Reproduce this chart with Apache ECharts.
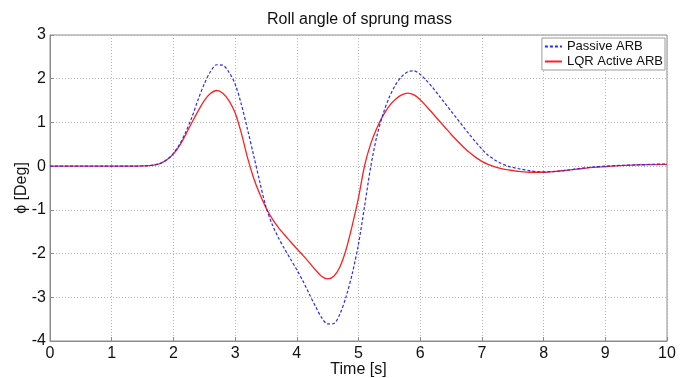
<!DOCTYPE html>
<html>
<head>
<meta charset="utf-8">
<script src="https://cdn.jsdelivr.net/npm/echarts@6/dist/echarts.min.js"></script>
<style>
html,body{margin:0;padding:0;background:#fff;}
#c{width:688px;height:378px;}
</style>
</head>
<body>
<div id="c"></div>
<script>
const titleText = 'Roll angle of sprung mass';
const xName = 'Time [s]';
const yName = 'ϕ [Deg]';
const seriesNames = ['Passive ARB', 'LQR Active ARB'];

const times = [0,0.5,1.0,1.2,1.4,1.5,1.6,1.7,
  1.8,1.9,2.0,2.1,2.2,2.3,2.4,2.5,2.6,2.7,2.8,2.9,
  3.0,3.1,3.2,3.3,3.4,3.5,3.6,3.7,3.8,3.9,
  4.0,4.1,4.2,4.3,4.4,4.5,4.6,4.7,4.8,4.9,
  5.0,5.1,5.2,5.3,5.4,5.5,5.6,5.7,5.8,5.9,
  6.0,6.1,6.2,6.3,6.4,6.5,6.6,6.7,6.8,6.9,
  7.0,7.1,7.2,7.3,7.4,7.5,7.6,
  7.8,8.0,8.2,8.4,8.6,8.8,9.0,9.5,10];

const passive = [0,0,0,0,0.002,0.005,0.012,0.03,
  0.07,0.15,0.29,0.5,0.78,1.12,1.52,1.88,2.16,2.32,2.31,2.15,
  1.88,1.42,0.85,0.25,-0.36,-0.93,-1.33,-1.63,-1.89,-2.13,
  -2.37,-2.63,-2.92,-3.2,-3.46,-3.61,-3.6,-3.38,-2.98,-2.45,
  -1.78,-0.9,0.0,0.7,1.2,1.58,1.86,2.05,2.16,2.18,
  2.1,1.96,1.8,1.62,1.44,1.26,1.08,0.9,0.72,0.55,
  0.39,0.25,0.15,0.07,0.01,-0.03,-0.06,
  -0.11,-0.13,-0.12,-0.09,-0.05,-0.02,0.0,0.03,0.05];

const lqr = [0,0,0,0,0.002,0.005,0.012,0.03,
  0.07,0.15,0.28,0.47,0.72,1.0,1.26,1.5,1.66,1.73,1.67,1.5,
  1.22,0.76,0.2,-0.27,-0.64,-0.95,-1.2,-1.4,-1.57,-1.73,
  -1.89,-2.04,-2.2,-2.37,-2.52,-2.58,-2.52,-2.3,-1.9,-1.35,
  -0.72,0.02,0.52,0.88,1.16,1.38,1.53,1.63,1.67,1.63,
  1.52,1.37,1.21,1.05,0.89,0.73,0.58,0.44,0.31,0.2,
  0.11,0.04,-0.01,-0.05,-0.08,-0.1,-0.12,
  -0.14,-0.14,-0.12,-0.09,-0.06,-0.03,-0.01,0.03,0.04];

const xTicks = {min:0, max:10, interval:1};
const yTicks = {min:-4, max:3, interval:1};

const pair = (vals) => times.map((t,i) => [t, vals[i]]);

const chart = echarts.init(document.getElementById('c'), null, {renderer:'canvas'});
const font = 'Arial, "Liberation Sans", Helvetica, sans-serif';
chart.setOption({
  animation:false,
  backgroundColor:'#ffffff',
  title:{text:titleText, left:262, top:7, textStyle:{fontFamily:font, fontSize:16, fontWeight:'normal', color:'#111'}},
  grid:{left:50, right:21, top:35, bottom:37, show:true, borderColor:'#8c8c8c', borderWidth:1, backgroundColor:'#fff',
        containLabel:false, outerBoundsMode:'none'},
  legend:{
    data:seriesNames, orient:'vertical', right:23, top:38,
    borderColor:'#9a9a9a', borderWidth:1, backgroundColor:'#fff',
    padding:[2,2,2,2], itemGap:2, itemWidth:17, itemHeight:12,
    itemStyle:{opacity:0},
    textStyle:{fontFamily:font, fontSize:13, color:'#111'}
  },
  xAxis:{
    type:'value', min:xTicks.min, max:xTicks.max, interval:xTicks.interval,
    name:xName, nameLocation:'middle', nameGap:21, nameMoveOverlap:false,
    nameTextStyle:{fontFamily:font, fontSize:16, color:'#111'},
    axisLine:{show:true, onZero:false, lineStyle:{color:'#8c8c8c'}},
    axisTick:{show:true, inside:true, length:4, lineStyle:{color:'#8c8c8c'}},
    axisLabel:{fontFamily:font, fontSize:16, color:'#111', margin:5},
    splitLine:{show:true, lineStyle:{color:'#b4b4b4', type:[1,2], width:1}}
  },
  yAxis:{
    type:'value', min:yTicks.min, max:yTicks.max, interval:yTicks.interval,
    name:yName, nameLocation:'middle', nameGap:20, nameRotate:90, nameMoveOverlap:false,
    nameTextStyle:{fontFamily:font, fontSize:16, color:'#111'},
    axisLine:{show:true, onZero:false, lineStyle:{color:'#8c8c8c'}},
    axisTick:{show:true, inside:true, length:4, lineStyle:{color:'#8c8c8c'}},
    axisLabel:{fontFamily:font, fontSize:16, color:'#111', margin:4},
    splitLine:{show:true, lineStyle:{color:'#b4b4b4', type:[1,2], width:1}}
  },
  series:[
    {name:seriesNames[0], type:'line', data:pair(passive), smooth:0.3, showSymbol:false, symbol:'none',
     lineStyle:{color:'#2a2aff', width:1.2, type:[3,2]}, itemStyle:{color:'#2a2aff'}, z:3},
    {name:seriesNames[1], type:'line', data:pair(lqr), smooth:0.3, showSymbol:false, symbol:'none',
     lineStyle:{color:'#ff2020', width:1.3}, itemStyle:{color:'#ff2020'}, z:2}
  ]
});
</script>
</body>
</html>
